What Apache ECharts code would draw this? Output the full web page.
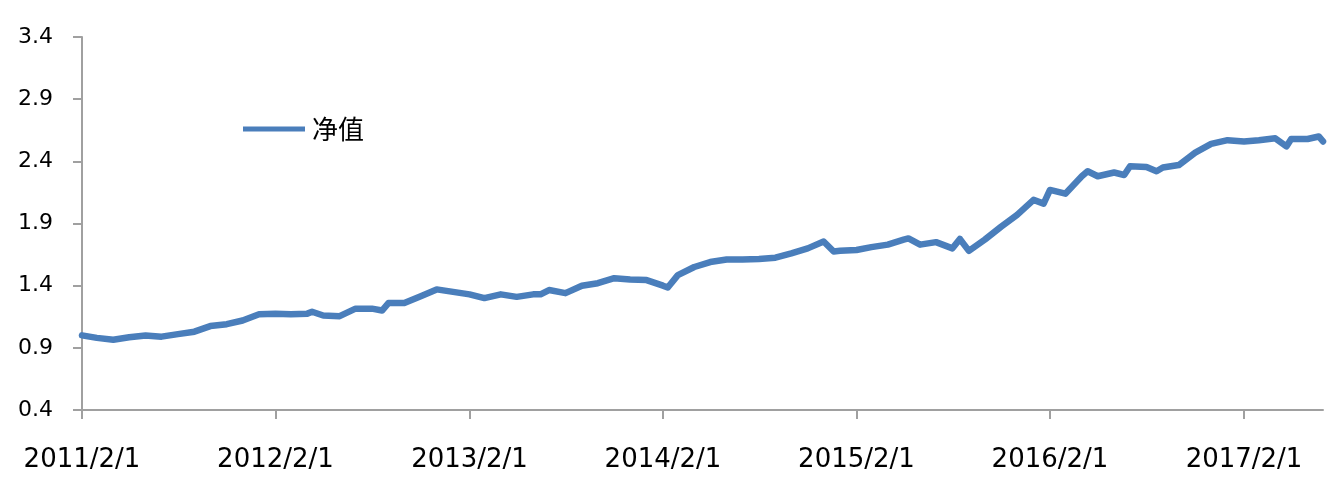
<!DOCTYPE html>
<html>
<head>
<meta charset="utf-8">
<script src="https://cdn.jsdelivr.net/npm/echarts@6/dist/echarts.min.js"></script>
<style>
  html, body { margin: 0; padding: 0; background: #fff; }
  #main { width: 1338px; height: 489px; }
</style>
</head>
<body>
<div id="main"></div>
<script>
// 净值数据
var dates = [
  '2011-02-01','2011-03-01','2011-04-01','2011-05-01','2011-06-01','2011-07-01','2011-08-01','2011-09-01',
  '2011-10-01','2011-11-01','2011-12-01','2012-01-01','2012-02-01','2012-03-01','2012-04-01','2012-04-10',
  '2012-05-01','2012-06-01','2012-07-01','2012-08-01','2012-08-20','2012-09-01','2012-10-01','2012-11-01',
  '2012-12-01','2013-01-01','2013-02-01','2013-03-01','2013-04-01','2013-05-01','2013-06-01','2013-06-15',
  '2013-07-01','2013-08-01','2013-09-01','2013-10-01','2013-11-01','2013-12-01','2014-01-01','2014-02-01',
  '2014-02-10','2014-03-01','2014-04-01','2014-05-01','2014-06-01','2014-07-01','2014-08-01','2014-09-01',
  '2014-10-01','2014-11-01','2014-12-01','2014-12-20','2015-01-01','2015-02-01','2015-03-01','2015-04-01',
  '2015-05-01','2015-05-10','2015-06-01','2015-07-01','2015-08-01','2015-08-15','2015-09-01','2015-10-01',
  '2015-11-01','2015-12-01','2016-01-01','2016-01-20','2016-02-01','2016-03-01','2016-04-01','2016-04-12',
  '2016-05-01','2016-06-01','2016-06-20','2016-07-01','2016-08-01','2016-08-20','2016-09-01','2016-10-01',
  '2016-11-01','2016-12-01','2017-01-01','2017-02-01','2017-03-01','2017-04-01','2017-04-22','2017-05-01',
  '2017-06-01','2017-06-22','2017-06-30'
];
var navValues = [
  1.00, 0.98, 0.965, 0.985, 1.00, 0.99, 1.01, 1.03,
  1.075, 1.09, 1.12, 1.17, 1.175, 1.17, 1.175, 1.19,
  1.16, 1.155, 1.215, 1.215, 1.20, 1.26, 1.26, 1.315,
  1.37, 1.35, 1.33, 1.30, 1.33, 1.31, 1.33, 1.33,
  1.365, 1.34, 1.40, 1.42, 1.46, 1.45, 1.445, 1.40,
  1.385, 1.485, 1.55, 1.59, 1.61, 1.61, 1.615, 1.625,
  1.66, 1.70, 1.755, 1.675, 1.68, 1.687, 1.71, 1.73,
  1.77, 1.78, 1.73, 1.75, 1.70, 1.776, 1.68, 1.77,
  1.875, 1.97, 2.09, 2.06, 2.17, 2.14, 2.28, 2.32,
  2.28, 2.31, 2.29, 2.36, 2.355, 2.32, 2.35, 2.37,
  2.47, 2.54, 2.57, 2.56, 2.57, 2.585, 2.52, 2.58,
  2.58, 2.60, 2.56
];
var xTickYears = [2011, 2012, 2013, 2014, 2015, 2016, 2017];
var yTicks = [0.4, 0.9, 1.4, 1.9, 2.4, 2.9, 3.4];

function toTime(s) {
  var p = s.split('-');
  return new Date(+p[0], +p[1] - 1, +p[2]).getTime();
}
var seriesData = dates.map(function (d, i) { return [toTime(d), navValues[i]]; });
var xTickValues = xTickYears.map(function (y) { return new Date(y, 1, 1).getTime(); });

var axisColor = '#a0a0a0';
var chart = echarts.init(document.getElementById('main'));
chart.setOption({
  animation: false,
  grid: { left: 82, right: 15, top: 37, bottom: 79 },
  legend: {
    data: ['净值'],
    left: 243,
    top: 116,
    padding: 0,
    icon: 'path://M0,0H62V5H0Z',
    itemWidth: 62,
    itemHeight: 5,
    textStyle: { fontFamily: 'Noto Sans CJK SC', fontSize: 26, color: '#000', padding: [0, 0, 0, 2] }
  },
  xAxis: {
    type: 'value',
    min: toTime('2011-02-01'),
    max: toTime('2017-06-30'),
    axisLine: { lineStyle: { color: axisColor, width: 2 } },
    axisTick: { show: true, customValues: xTickValues, length: 9, lineStyle: { color: axisColor, width: 2 } },
    axisLabel: {
      customValues: xTickValues,
      margin: 37,
      fontFamily: 'DejaVu Sans',
      fontSize: 26,
      color: '#000',
      hideOverlap: false,
      formatter: function (v) { return new Date(v).getFullYear() + '/2/1'; }
    },
    splitLine: { show: false }
  },
  yAxis: {
    type: 'value',
    min: 0.4,
    max: 3.4,
    axisLine: { show: true, lineStyle: { color: axisColor, width: 2 } },
    axisTick: { show: true, customValues: yTicks, length: 9, lineStyle: { color: axisColor, width: 2 } },
    axisLabel: {
      customValues: yTicks,
      margin: 29,
      fontFamily: 'DejaVu Sans',
      fontSize: 22,
      color: '#000',
      formatter: function (v) { return v.toFixed(1); }
    },
    splitLine: { show: false }
  },
  series: [{
    name: '净值',
    type: 'line',
    data: seriesData,
    showSymbol: false,
    smooth: false,
    itemStyle: { color: '#4a7ebb' },
    lineStyle: { color: '#4a7ebb', width: 6.5, cap: 'round', join: 'round' }
  }]
});
</script>
</body>
</html>
